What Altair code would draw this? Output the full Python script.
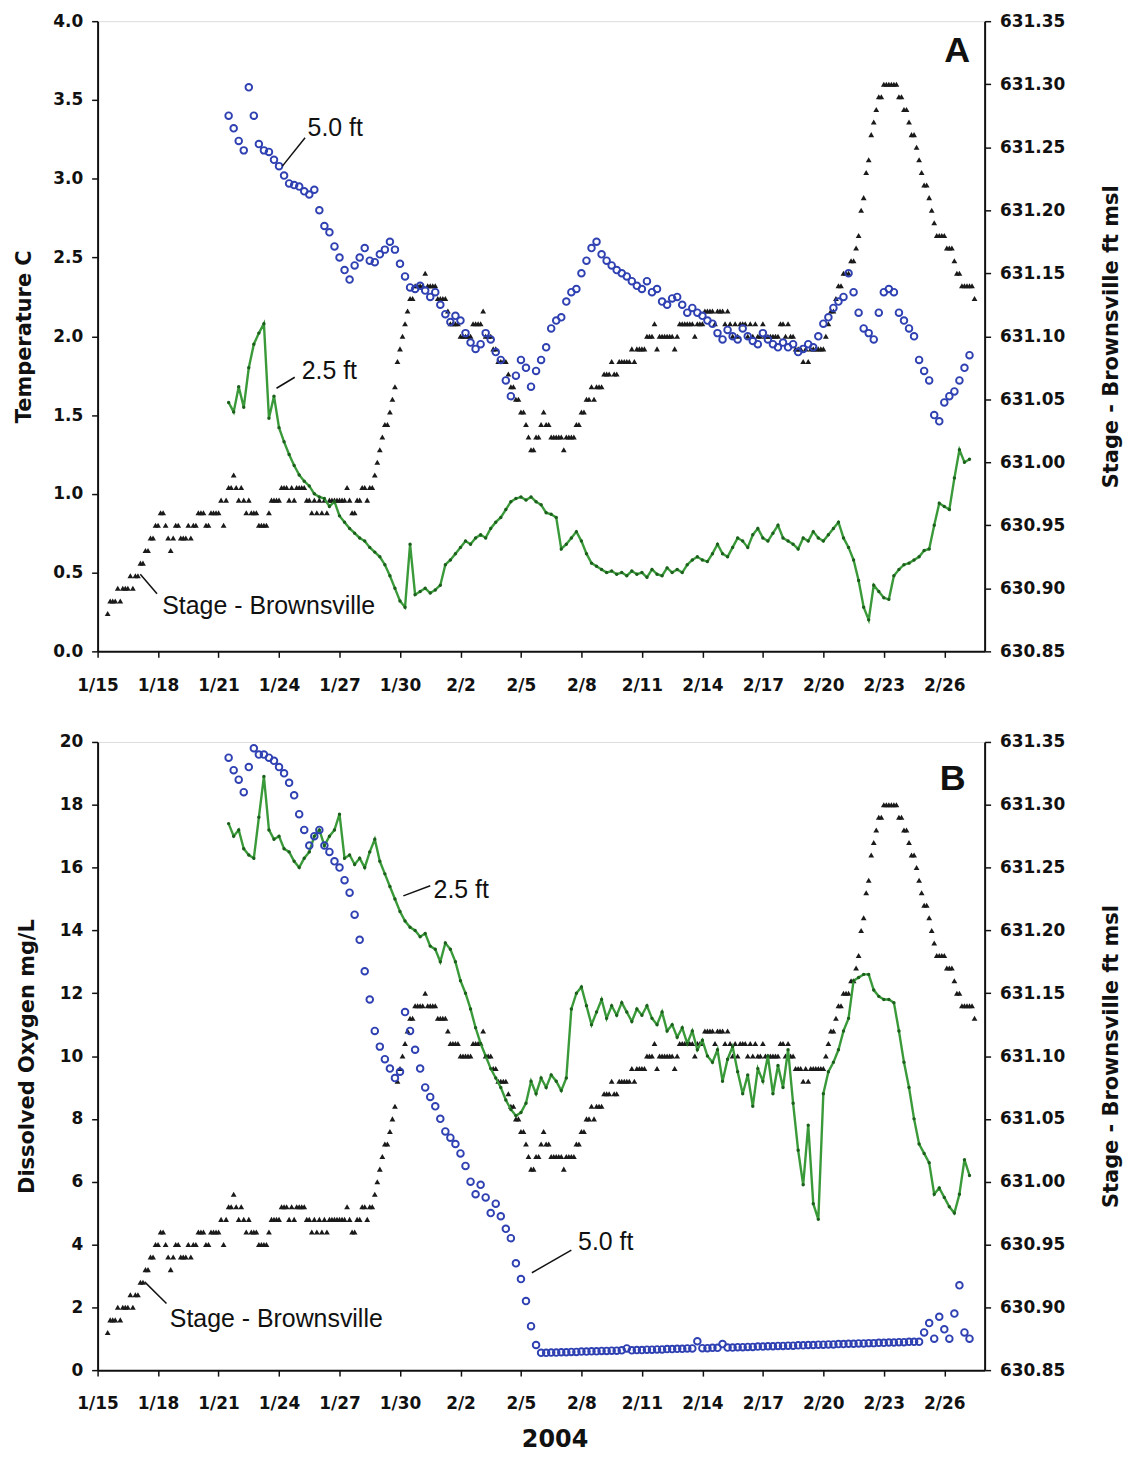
import altair as alt
import pandas as pd

# ---------------- data ----------------
TICK_DATES = ["2004-01-15", "2004-01-18", "2004-01-21", "2004-01-24", "2004-01-27",
              "2004-01-30", "2004-02-02", "2004-02-05", "2004-02-08", "2004-02-11",
              "2004-02-14", "2004-02-17", "2004-02-20", "2004-02-23", "2004-02-26"]
X_DOMAIN = ["2004-01-15", "2004-02-28"]

# Stage at Brownsville, 3-hourly, hundredths of a foot above 630 ft msl
STAGE_START = "2004-01-15 12:00"
STAGE_STEP_HOURS = 3
STAGE_BY_DAY = [
    [88, 89, 89, 89],                              # 1/15 (from 12h)
    [90, 89, 90, 90, 90, 91, 90, 91],              # 1/16
    [91, 92, 92, 93, 93, 94, 94, 95],              # 1/17
    [95, 96, 96, 95, 94, 93, 94, 95],              # 1/18
    [95, 94, 94, 94, 95, 94, 95, 95],              # 1/19
    [96, 96, 96, 95, 95, 96, 96, 96],              # 1/20
    [96, 97, 95, 97, 98, 98, 99, 98],              # 1/21
    [97, 98, 97, 96, 97, 96, 96, 96],              # 1/22
    [95, 95, 95, 95, 96, 97, 97, 97],              # 1/23
    [97, 98, 98, 98, 97, 98, 97, 98],              # 1/24
    [98, 98, 98, 97, 97, 96, 97, 96],              # 1/25
    [97, 96, 97, 96, 97, 97, 97, 97],              # 1/26
    [97, 97, 97, 98, 97, 96, 96, 97],              # 1/27
    [97, 98, 98, 97, 98, 98, 99, 100],             # 1/28
    [101, 102, 103, 103, 104, 105, 106, 108],      # 1/29
    [109, 110, 111, 112, 113, 113, 114, 114],      # 1/30
    [114, 114, 115, 114, 114, 114, 114, 113],      # 1/31
    [113, 113, 113, 112, 111, 111, 111, 111],      # 2/1
    [110, 110, 110, 110, 110, 111, 111, 111],      # 2/2
    [111, 112, 110, 110, 110, 109, 109, 108],      # 2/3
    [108, 108, 108, 107, 106, 106, 105, 105],      # 2/4
    [104, 104, 103, 102, 101, 101, 102, 102],      # 2/5
    [103, 104, 103, 103, 102, 102, 102, 102],      # 2/6
    [102, 101, 102, 102, 102, 102, 103, 103],      # 2/7
    [104, 104, 105, 105, 106, 105, 106, 106],      # 2/8
    [106, 107, 107, 107, 108, 107, 107, 108],      # 2/9
    [108, 108, 108, 108, 109, 108, 109, 109],      # 2/10
    [109, 109, 110, 110, 110, 111, 109, 110],      # 2/11
    [110, 110, 110, 110, 110, 109, 110, 111],      # 2/12
    [111, 111, 111, 111, 111, 110, 111, 111],      # 2/13
    [111, 112, 112, 112, 112, 111, 112, 112],      # 2/14
    [112, 111, 112, 111, 110, 111, 110, 111],      # 2/15
    [111, 111, 110, 111, 110, 111, 110, 110],      # 2/16
    [111, 110, 110, 110, 110, 110, 110, 111],      # 2/17
    [111, 110, 111, 110, 110, 109, 109, 109],      # 2/18
    [108, 109, 108, 109, 109, 109, 109, 109],      # 2/19
    [109, 110, 111, 112, 112, 113, 114, 114],      # 2/20
    [115, 115, 115, 116, 116, 117, 118, 120],      # 2/21
    [121, 123, 124, 126, 127, 128, 129, 129],      # 2/22
    [130, 130, 130, 130, 130, 130, 129, 129],      # 2/23
    [128, 128, 127, 126, 126, 125, 124, 123],      # 2/24
    [122, 122, 121, 120, 119, 118, 118, 118],      # 2/25
    [118, 117, 117, 117, 116, 115, 115, 114],      # 2/26
    [114, 114, 114, 114, 113],                     # 2/27
]

# Probe readings, 6-hourly from 1/21 12h
PROBE_START = "2004-01-21 12:00"
PROBE_STEP_HOURS = 6

TEMP_5FT = [
    3.40, 3.32,
    3.24, 3.18, 3.58, 3.40,
    3.22, 3.18, 3.17, 3.12,
    3.08, 3.02, 2.97, 2.96,
    2.95, 2.92, 2.90, 2.93,
    2.80, 2.70, 2.66, 2.57,
    2.50, 2.42, 2.36, 2.45,
    2.50, 2.56, 2.48, 2.47,
    2.52, 2.55, 2.60, 2.55,
    2.46, 2.38, 2.31, 2.30,
    2.32, 2.29, 2.25, 2.28,
    2.20, 2.14, 2.09, 2.13,
    2.10, 2.02, 1.96, 1.92,
    1.95, 2.02, 1.98, 1.90,
    1.85, 1.72, 1.62, 1.75,
    1.85, 1.80, 1.68, 1.78,
    1.85, 1.93, 2.05, 2.10,
    2.12, 2.22, 2.28, 2.30,
    2.40, 2.48, 2.56, 2.60,
    2.52, 2.48, 2.45, 2.42,
    2.40, 2.38, 2.35, 2.32,
    2.30, 2.35, 2.28, 2.30,
    2.22, 2.20, 2.24, 2.25,
    2.20, 2.15, 2.18, 2.15,
    2.13, 2.10, 2.08, 2.02,
    1.98, 2.04, 2.00, 1.98,
    2.05, 2.00, 1.97, 1.95,
    2.02, 1.98, 1.95, 1.93,
    1.96, 1.93, 1.95, 1.90,
    1.92, 1.95, 1.93, 2.00,
    2.08, 2.12, 2.18, 2.22,
    2.25, 2.40, 2.28, 2.15,
    2.05, 2.02, 1.98, 2.15,
    2.28, 2.30, 2.28, 2.15,
    2.10, 2.05, 2.00, 1.85,
    1.78, 1.72, 1.50, 1.46,
    1.58, 1.62, 1.65, 1.72,
    1.80, 1.88,
]

TEMP_25FT = [
    1.58, 1.52,
    1.68, 1.55, 1.80, 1.95,
    2.02, 2.08, 1.48, 1.62,
    1.42, 1.33, 1.25, 1.18,
    1.12, 1.08, 1.05, 1.00,
    0.98, 0.97, 0.92, 0.95,
    0.86, 0.82, 0.78, 0.75,
    0.72, 0.70, 0.66, 0.63,
    0.60, 0.55, 0.48, 0.40,
    0.32, 0.28, 0.68, 0.36,
    0.38, 0.40, 0.37, 0.39,
    0.42, 0.55, 0.58, 0.62,
    0.66, 0.70, 0.68, 0.72,
    0.74, 0.72, 0.78, 0.82,
    0.85, 0.90, 0.95, 0.97,
    0.98, 0.96, 0.98, 0.95,
    0.93, 0.88, 0.87, 0.85,
    0.65, 0.68, 0.72, 0.76,
    0.70, 0.62, 0.56, 0.54,
    0.52, 0.50, 0.51, 0.49,
    0.50, 0.48, 0.51, 0.49,
    0.50, 0.47, 0.52, 0.49,
    0.48, 0.53, 0.50, 0.52,
    0.50, 0.55, 0.58, 0.60,
    0.58, 0.57, 0.62, 0.68,
    0.62, 0.60, 0.66, 0.72,
    0.70, 0.66, 0.74, 0.78,
    0.72, 0.70, 0.75, 0.80,
    0.72, 0.70, 0.68, 0.65,
    0.72, 0.70, 0.76, 0.72,
    0.70, 0.74, 0.78, 0.82,
    0.72, 0.66, 0.58, 0.45,
    0.28, 0.20, 0.42, 0.38,
    0.34, 0.33, 0.48, 0.52,
    0.55, 0.56, 0.58, 0.60,
    0.64, 0.65, 0.80, 0.94,
    0.92, 0.90, 1.10, 1.28,
    1.20, 1.22,
]

DO_5FT = [
    19.5, 19.1,
    18.8, 18.4, 19.2, 19.8,
    19.6, 19.6, 19.5, 19.4,
    19.2, 19.0, 18.7, 18.3,
    17.7, 17.2, 16.7, 17.0,
    17.2, 16.7, 16.5, 16.2,
    16.0, 15.6, 15.2, 14.5,
    13.7, 12.7, 11.8, 10.8,
    10.3, 9.9, 9.6, 9.3,
    9.5, 11.4, 10.8, 10.2,
    9.6, 9.0, 8.7, 8.4,
    8.0, 7.6, 7.4, 7.2,
    6.9, 6.5, 6.0, 5.6,
    5.9, 5.5, 5.0, 5.3,
    4.9, 4.5, 4.2, 3.4,
    2.9, 2.2, 1.4, 0.8,
    0.55, 0.55, 0.56, 0.56,
    0.57, 0.57, 0.58, 0.58,
    0.59, 0.59, 0.60, 0.60,
    0.61, 0.61, 0.62, 0.62,
    0.63, 0.69, 0.63, 0.64,
    0.64, 0.65, 0.65, 0.66,
    0.66, 0.67, 0.67, 0.68,
    0.68, 0.69, 0.69, 0.92,
    0.70, 0.70, 0.71, 0.71,
    0.83, 0.72, 0.72, 0.73,
    0.73, 0.74, 0.74, 0.75,
    0.75, 0.76, 0.76, 0.77,
    0.77, 0.78, 0.78, 0.79,
    0.79, 0.80, 0.80, 0.81,
    0.81, 0.82, 0.82, 0.83,
    0.83, 0.84, 0.84, 0.85,
    0.85, 0.86, 0.86, 0.87,
    0.87, 0.88, 0.88, 0.89,
    0.89, 0.90, 0.90, 0.90,
    1.2, 1.5, 1.0, 1.7,
    1.3, 1.0, 1.8, 2.7,
    1.2, 1.0,
]

DO_25FT = [
    17.4, 17.0,
    17.2, 16.6, 16.4, 16.3,
    17.6, 18.9, 17.2, 16.9,
    17.0, 16.6, 16.5, 16.2,
    16.0, 16.3, 16.5, 17.0,
    17.2, 16.7, 17.0, 17.2,
    17.7, 16.3, 16.4, 16.1,
    16.3, 16.0, 16.5, 16.9,
    16.2, 15.8, 15.4, 15.0,
    14.6, 14.3, 14.1, 14.0,
    13.8, 13.9, 13.5, 13.4,
    13.0, 13.6, 13.4, 13.0,
    12.4, 12.0, 11.5, 10.9,
    10.4, 10.0, 9.6, 9.3,
    9.0, 8.6, 8.3, 8.1,
    8.2, 8.5, 9.2, 8.8,
    9.3, 9.0, 9.4, 9.2,
    8.9, 9.3, 11.5, 12.0,
    12.2, 11.6, 11.0, 11.4,
    11.8, 11.2, 11.6, 11.3,
    11.7, 11.4, 11.1, 11.5,
    11.3, 11.6, 11.2, 11.0,
    11.4, 10.8, 11.0, 10.6,
    10.9, 10.4, 10.8, 10.2,
    10.5, 10.0, 9.8, 10.2,
    9.2, 9.9, 10.3, 9.5,
    8.8, 9.4, 8.4, 9.6,
    9.2, 10.0, 8.8, 9.7,
    9.0, 10.2, 8.5, 7.0,
    5.9, 7.8, 5.3, 4.8,
    8.8, 9.5, 9.8, 10.2,
    10.8, 11.2, 12.4, 12.5,
    12.6, 12.6, 12.1, 11.9,
    11.8, 11.8, 11.7, 10.8,
    9.8, 9.0, 8.0, 7.2,
    6.9, 6.6, 5.6, 5.8,
    5.5, 5.2, 5.0, 5.6,
    6.7, 6.2,
]

# Annotations (anchored in data units)
ANN_A_TEXT = [("5.0 ft", "2004-01-25T10:00", 3.32),
              ("2.5 ft", "2004-01-25T03:00", 1.78),
              ("Stage - Brownsville", "2004-01-18T05:00", 0.29)]
ANN_A_LEAD = [("2004-01-25T07:00", 3.26, "2004-01-24T04:00", 3.08),
              ("2004-01-24T18:45", 1.74, "2004-01-23T21:00", 1.67),
              ("2004-01-17T22:45", 0.365, "2004-01-17T02:50", 0.49)]
ANN_A_LETTER = ("A", "2004-02-26T15:20", 3.81)

ANN_B_TEXT = [("2.5 ft", "2004-01-31T16:00", 15.29),
              ("5.0 ft", "2004-02-07T20:00", 4.08),
              ("Stage - Brownsville", "2004-01-18T14:00", 1.64)]
ANN_B_LEAD = [("2004-01-31T12:00", 15.42, "2004-01-30T04:00", 15.10),
              ("2004-02-07T12:00", 3.82, "2004-02-05T13:00", 3.10),
              ("2004-01-18T10:00", 2.12, "2004-01-17T08:00", 2.81)]
ANN_B_LETTER = ("B", "2004-02-26T10:00", 18.82)


# ---------------- frames ----------------
def series_frame(start, step_h, values, name):
    t = pd.date_range(start, periods=len(values), freq=f"{step_h}h")
    return pd.DataFrame({"t": t.strftime("%Y-%m-%dT%H:%M:%S"), name: values})


stage_vals = [630 + h / 100.0 for day in STAGE_BY_DAY for h in day]
stage_df = series_frame(STAGE_START, STAGE_STEP_HOURS, stage_vals, "stage")


def dt(s):
    y, m, d = (int(p) for p in s.split("-"))
    return alt.DateTime(year=y, month=m, date=d)


# ---------------- styling ----------------
INK = "#111111"
AX = dict(domainColor=INK, domainWidth=2, tickColor=INK, tickWidth=1.5, tickSize=6,
          labelFont="DejaVu Sans", labelFontWeight="bold", labelFontSize=17, labelColor=INK,
          labelFlush=False, labelOverlap=False, grid=False,
          titleFont="DejaVu Sans", titleFontWeight="bold", titleFontSize=21, titleColor=INK)

X_SCALE = alt.Scale(domain=[dt(X_DOMAIN[0]), dt(X_DOMAIN[1])])
STAGE_SCALE = alt.Scale(domain=[630.85, 631.35], nice=False, zero=False)
STAGE_TICKS = [630.85, 630.90, 630.95, 631.00, 631.05, 631.10, 631.15, 631.20, 631.25, 631.30, 631.35]


def panel(blue, green, y_title, y_domain, y_ticks, y_fmt, title_pad,
          ann_text, ann_lead, letter, x_title, height):
    if x_title:
        xaxis = alt.Axis(values=[dt(s) for s in TICK_DATES], format="%-m/%-d", labelPadding=20,
                         title=x_title, titlePadding=16, titleX=459,
                         **{**AX, "titleFontSize": 24})
    else:
        xaxis = alt.Axis(values=[dt(s) for s in TICK_DATES], format="%-m/%-d", labelPadding=20,
                         title=None, **AX)
    left_axis = alt.Axis(values=y_ticks, format=y_fmt, orient="left", labelPadding=9,
                         title=y_title, titlePadding=title_pad, **AX)
    right_axis = alt.Axis(values=STAGE_TICKS, format=".2f", orient="right", labelPadding=9,
                          title="Stage - Brownsville ft msl", titleAngle=270, titleBaseline="top",
                          titlePadding=36, **AX)
    yscale = alt.Scale(domain=y_domain, nice=False, zero=False)

    def X(f):
        return alt.X(f"{f}:T", scale=X_SCALE, axis=xaxis)

    def Y(f):
        return alt.Y(f"{f}:Q", scale=yscale, axis=left_axis)

    bdf = series_frame(PROBE_START, PROBE_STEP_HOURS, blue, "b")
    gdf = series_frame(PROBE_START, PROBE_STEP_HOURS, green, "g")
    text_df = pd.DataFrame(ann_text, columns=["label", "t", "y"])
    lead_df = pd.DataFrame(ann_lead, columns=["x0", "y0", "x1", "y1"])
    letter_df = pd.DataFrame([letter], columns=["label", "t", "y"])

    stage = alt.Chart(stage_df).mark_point(
        shape="triangle-up", filled=True, size=34, color="#1a1a1a", opacity=1
    ).encode(x=X("t"), y=alt.Y("stage:Q", scale=STAGE_SCALE, axis=right_axis))

    gline = alt.Chart(gdf).mark_line(color="#3a9a3a", strokeWidth=2.4).encode(x=X("t"), y=Y("g"))
    gpts = alt.Chart(gdf).mark_point(filled=True, size=12, color="#1d601d", opacity=1).encode(
        x=X("t"), y=Y("g"))
    bpts = alt.Chart(bdf).mark_point(shape="circle", filled=False, size=44, strokeWidth=1.9,
                                     color="#2f41b2", opacity=1).encode(x=X("t"), y=Y("b"))
    leads = alt.Chart(lead_df).mark_rule(color=INK, strokeWidth=1.5).encode(
        x=X("x0"), x2="x1:T", y=Y("y0"), y2="y1:Q")
    texts = alt.Chart(text_df).mark_text(font="Liberation Sans", fontSize=25, align="left",
                                         baseline="middle", color=INK).encode(
        x=X("t"), y=Y("y"), text="label:N")
    let = alt.Chart(letter_df).mark_text(font="Liberation Sans", fontSize=36, fontWeight="bold",
                                         align="center", baseline="middle", color=INK).encode(
        x=X("t"), y=Y("y"), text="label:N")

    left = alt.layer(gline, gpts, bpts, leads, texts, let)
    return alt.layer(stage, left).resolve_scale(y="independent").properties(width=891, height=height)


panel_a = panel(TEMP_5FT, TEMP_25FT, "Temperature C", [0, 4],
                [0, 0.5, 1.0, 1.5, 2.0, 2.5, 3.0, 3.5, 4.0], ".1f", 18,
                ANN_A_TEXT, ANN_A_LEAD, ANN_A_LETTER, None, 633)
panel_b = panel(DO_5FT, DO_25FT, "Dissolved Oxygen mg/L", [0, 20],
                [0, 2, 4, 6, 8, 10, 12, 14, 16, 18, 20], "d", 22,
                ANN_B_TEXT, ANN_B_LEAD, ANN_B_LETTER, "2004", 631)

chart = alt.vconcat(panel_a, panel_b, spacing=38).properties(
    padding={"left": 5, "top": 0, "right": 0, "bottom": 0}
).configure_view(stroke=INK, strokeWidth=2).configure(background="white")

chart.save("out.html", embed_options={"renderer": "svg", "actions": False})
